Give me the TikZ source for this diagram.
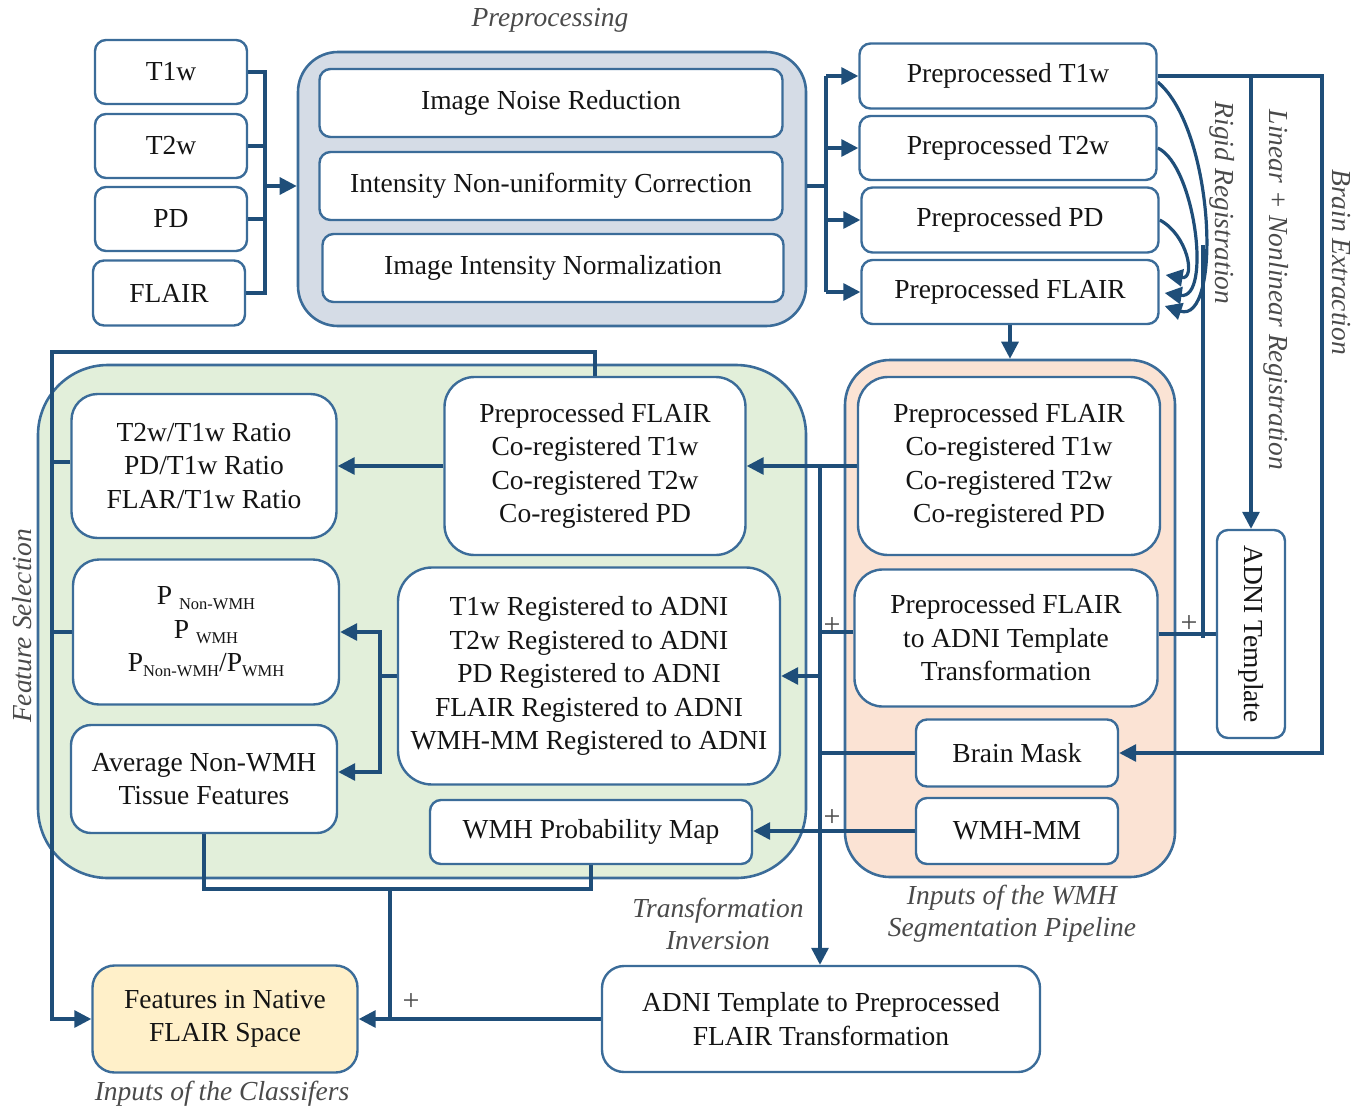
\documentclass[tikz,border=0pt]{standalone}
\usepackage{fontspec}
\setmainfont{Liberation Serif}
\usetikzlibrary{arrows.meta,calc}
\definecolor{bord}{HTML}{3B6C99}
\definecolor{lnc}{HTML}{1F4E79}
\definecolor{prepfill}{HTML}{D5DCE6}
\definecolor{grnfill}{HTML}{E2EFDA}
\definecolor{orgfill}{HTML}{FBE3D4}
\definecolor{yelfill}{HTML}{FFF0C9}
\definecolor{labc}{HTML}{4A4A4A}
\newcommand\bxf{\fontsize{27.5}{33.5}\selectfont}
\newcommand\lbf{\fontsize{27.5}{32}\selectfont\itshape}
\newcommand\sbs[1]{\raisebox{-5pt}{\fontsize{16.5}{16.5}\selectfont #1}}
\pgfdeclarelayer{bg}
\pgfdeclarelayer{mid}
\pgfsetlayers{bg,mid,main}
\begin{document}
\begin{tikzpicture}[x=1pt,y=-1pt,
  box/.style={draw=bord, line width=2.4pt, rounded corners=#1, fill=white, align=center, inner sep=0pt, font=\bxf, text=black!92},
  box/.default=11pt,
  grp/.style={draw=bord, line width=2.6pt, inner sep=0pt, rounded corners=#1},
  conn/.style={draw=lnc, line width=3.2pt},
  arr/.style={conn, -{Triangle[length=17pt,width=17pt]}},
  lab/.style={font=\lbf, text=labc, align=center},
  plusm/.style={font=\fontsize{30}{30}\selectfont, text=labc, inner sep=0pt},
]
\useasboundingbox (0,0) rectangle (1366,1112);

% ---------- groups ----------
\begin{pgfonlayer}{bg}
\node[grp=40pt, fill=prepfill, minimum width=508, minimum height=274] (prep) at (552,189) {};
\node[grp=45pt, fill=orgfill, minimum width=330, minimum height=517] (og) at (1010,618.5) {};
\node[grp=70pt, fill=grnfill, minimum width=768, minimum height=513] (gg) at (422,621.5) {};
\end{pgfonlayer}

% ---------- inputs ----------
\node[box, minimum width=152, minimum height=64] (t1in) at (171,72) {T1w};
\node[box, minimum width=152, minimum height=64] (t2in) at (171,146) {T2w};
\node[box, minimum width=152, minimum height=64] (pdin) at (171,219) {PD};
\node[box, minimum width=152, minimum height=65] (flin) at (169,293) {FLAIR};

% ---------- preprocessing ----------
\node[box, minimum width=463, minimum height=68] (inr) at (551,103) {Image Noise Reduction};
\node[box, minimum width=463, minimum height=68] (inuc) at (551,186) {Intensity Non-uniformity Correction};
\node[box, minimum width=461, minimum height=68] (iin) at (553,268) {Image Intensity Normalization};

% ---------- preprocessed ----------
\node[box, minimum width=297, minimum height=65] (pt1) at (1008,76) {Preprocessed T1w};
\node[box, minimum width=297, minimum height=64] (pt2) at (1008,148) {Preprocessed T2w};
\node[box, minimum width=297, minimum height=65] (ppd) at (1010,220) {Preprocessed PD};
\node[box, minimum width=297, minimum height=64] (pfl) at (1010,292) {Preprocessed FLAIR};

% ---------- WMH pipeline inputs ----------
\node[box=30pt, minimum width=302, minimum height=178] (ocr) at (1009,466) {Preprocessed FLAIR\\Co-registered T1w\\Co-registered T2w\\Co-registered PD};
\node[box=28pt, minimum width=303, minimum height=137] (otr) at (1006,638) {Preprocessed FLAIR\\to ADNI Template\\Transformation};
\node[box, minimum width=202, minimum height=67] (bm) at (1017,753) {Brain Mask};
\node[box, minimum width=202, minimum height=66] (wmm) at (1017,831) {WMH-MM};

\node[box, minimum width=68, minimum height=208,
      label={[rotate=-90, font=\bxf, text=black!92]center:ADNI Template}] (adni) at (1251,634) {};

% ---------- feature selection ----------
\node[box=26pt, minimum width=265, minimum height=144] (ratio) at (204,466) {T2w/T1w Ratio\\PD/T1w Ratio\\FLAR/T1w Ratio};
\node[box=30pt, minimum width=301, minimum height=178] (gcr) at (595,466) {Preprocessed FLAIR\\Co-registered T1w\\Co-registered T2w\\Co-registered PD};
\node[box=26pt, minimum width=266, minimum height=145] (pbox) at (206,632) {P \sbs{Non-WMH}\\P \sbs{WMH}\\P\sbs{Non-WMH}/P\sbs{WMH}};
\node[box=34pt, minimum width=382, minimum height=217] (areg) at (589,676) {T1w Registered to ADNI\\T2w Registered to ADNI\\PD Registered to ADNI\\FLAIR Registered to ADNI\\WMH-MM Registered to ADNI};
\node[box=20pt, minimum width=266, minimum height=108] (avg) at (204,779) {Average Non-WMH\\Tissue Features};
\node[box, minimum width=322, minimum height=64] (wpm) at (591,832) {WMH Probability Map};

% ---------- bottom ----------
\node[box=22pt, fill=yelfill, minimum width=265, minimum height=107] (feat) at (225,1019) {Features in Native\\FLAIR Space};
\node[box=22pt, minimum width=438, minimum height=106] (inv) at (821,1019) {ADNI Template to Preprocessed\\FLAIR Transformation};

% ---------- coordinates ----------
\coordinate (ibt) at (265,72);
\coordinate (ibb) at (265,293);
\coordinate (ibm) at (265,186);
\coordinate (obt) at (826,76);
\coordinate (obb) at (826,292);
\coordinate (obm) at (826,186);
\coordinate (beT) at (1322,76);
\coordinate (beB) at (1322,753);
\coordinate (rg) at (1203,245);
\coordinate (tk) at (820,466);
\coordinate (rb) at (380,676);
\coordinate (fbt) at (52,352);
\coordinate (bb) at (390,889);

% ---------- connectors ----------
\begin{pgfonlayer}{mid}
\draw[conn] (t1in.east) -- (ibt) -- (ibb) -- (flin.east);
\draw[conn] (t2in.east) -- (t2in.east -| ibt);
\draw[conn] (pdin.east) -- (pdin.east -| ibt);
\draw[arr] (ibm) -- (ibm -| prep.west);

\draw[conn] (prep.east |- obm) -- (obm);
\draw[conn] (obt) -- (obb);
\draw[arr] (obt) -- (pt1.west);
\draw[arr] (obm |- pt2.west) -- (pt2.west);
\draw[arr] (obm |- ppd.west) -- (ppd.west);
\draw[arr] (obb) -- (pfl.west);

\draw[arr] (pfl.south) -- (pfl.south |- og.north);

% rigid registration curves
\draw[arr] ([yshift=-6pt]pt1.east) .. controls (1215,130) and (1222,325) .. ([xshift=5pt,yshift=-14pt]pfl.east);
\draw[arr] (pt2.east) .. controls (1195,165) and (1212,300) .. ([xshift=5pt,yshift=-1pt]pfl.east);
\draw[arr] (ppd.east) .. controls (1188,235) and (1196,280) .. ([xshift=6pt,yshift=17pt]pfl.east);

% brain extraction / linear registration
\draw[arr] (pt1.east) -- (beT) -- (beB) -- (bm.east);
\draw[arr] (pt1.east -| adni.north) -- (adni.north);

% FLAIR to ADNI template
\draw[conn] (rg) -- (rg |- otr.east);
\draw[conn] ([yshift=4pt]otr.east) -- ([yshift=4pt]otr.east -| adni.west);

% pipeline -> feature selection
\draw[arr] (ocr.west) -- (gcr.east);
\draw[arr] (tk) -- (tk |- inv.north);
\draw[conn] ([yshift=6pt]otr.west) -- ([yshift=6pt]otr.west -| tk);
\draw[arr] (tk |- areg.east) -- (areg.east);
\draw[conn] (bm.west) -- (bm.west -| tk);
\draw[arr] (wmm.west) -- (wmm.west -| wpm.east);

% inside feature selection
\draw[arr] (gcr.west) -- (ratio.east);
\draw[conn] (areg.west) -- (rb);
\draw[arr] (rb) |- (pbox.east);
\draw[arr] (rb) |- ([yshift=7pt]avg.east);

% feature bus
\draw[arr] (gcr.north) -- (gcr.north |- fbt) -- (fbt) |- (feat.west);
\draw[conn] ([yshift=4pt]ratio.west) -- ([yshift=4pt]ratio.west -| fbt);
\draw[conn] (pbox.west) -- (pbox.west -| fbt);

% bottom bus
\draw[conn] (avg.south) -- (avg.south |- bb) -- (wpm.south |- bb) -- (wpm.south);
\draw[conn] (bb) -- (bb |- feat.east);
\draw[arr] (inv.west) -- (feat.east);
\end{pgfonlayer}

% ---------- plus signs ----------
\node[plusm] (p1) at (832,626) {+};
\node[plusm] (p2) at (832,818) {+};
\node[plusm] (p3) at (1189,624) {+};
\node[plusm] (p4) at (411,1002) {+};

% ---------- labels ----------
\node[lab] (lprep) at (550,20) {Preprocessing};
\node[lab, rotate=-90] (lrig) at (1222,203) {Rigid Registration};
\node[lab, rotate=-90] (llin) at (1276,290) {Linear + Nonlinear Registration};
\node[lab, rotate=-90] (lbe) at (1341,262) {Brain Extraction};
\node[lab, rotate=90] (lfs) at (22,626) {Feature Selection};
\node[lab] (ltinv) at (718,924) {Transformation\\Inversion};
\node[lab] (lwmh) at (1012,914) {Inputs of the WMH\\Segmentation Pipeline};
\node[lab] (lcls) at (222,1094) {Inputs of the Classifers};
\end{tikzpicture}
\end{document}
